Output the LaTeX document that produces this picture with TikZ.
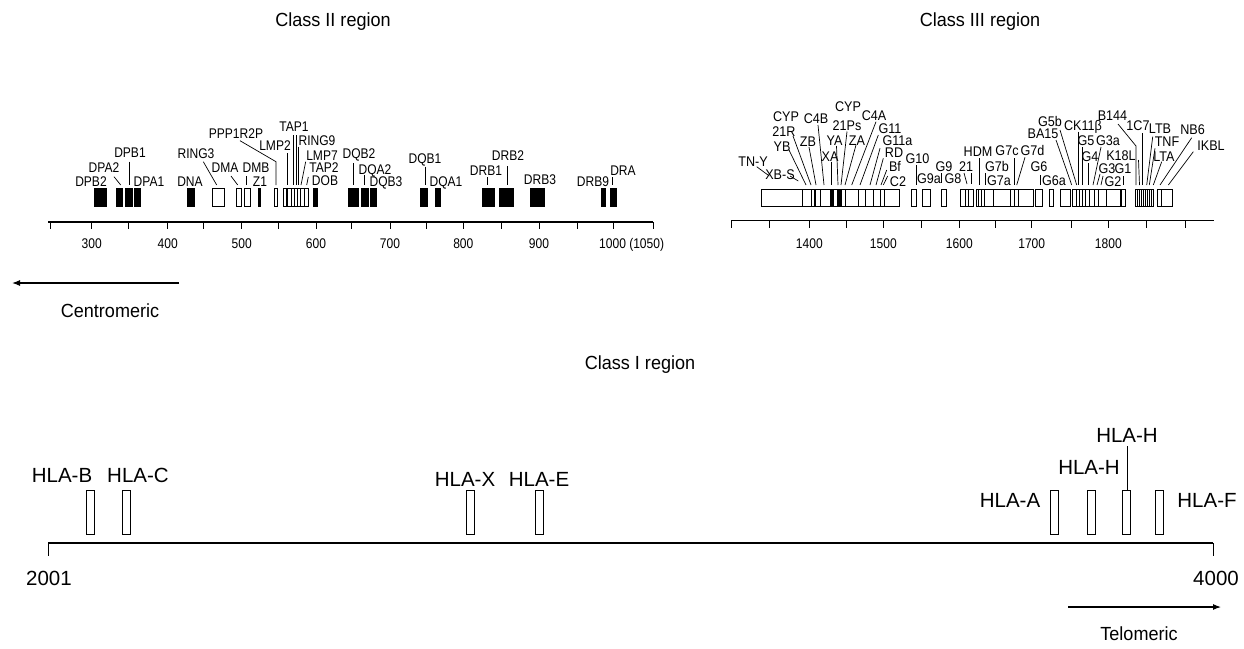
\documentclass[tikz,border=0pt]{standalone}
\usepackage{fontspec}
\setmainfont{Liberation Sans}
\usetikzlibrary{arrows.meta}
\begin{document}
\begin{tikzpicture}[x=1pt,y=-1pt,
  axisline/.style={line width=1.1pt},
  tickline/.style={line width=1pt},
  gbox/.style={draw,line width=0.8pt},
  fbox/.style={draw,fill=black,line width=0.5pt},
  divl/.style={line width=0.7pt},
  lead/.style={line width=0.7pt},
  lblii/.style={font=\fontsize{14}{15}\selectfont,inner sep=0pt,text height=10pt,text depth=0pt,xscale=0.86},
  lbliii/.style={font=\fontsize{14}{15}\selectfont,inner sep=0pt,text height=10pt,text depth=0pt,xscale=0.9},
  num/.style={font=\fontsize{14}{15}\selectfont,inner sep=0pt,text height=10pt,text depth=0pt,xscale=0.86},
  ttl/.style={font=\fontsize{19}{21}\selectfont,inner sep=0pt,text height=13.6pt,text depth=0pt,xscale=0.95},
  hla/.style={font=\fontsize{20.5}{22}\selectfont,inner sep=0pt,text height=14.7pt,text depth=0pt},
  arr/.style={line width=1.1pt,-{Latex[length=8pt,width=6pt]}}
]
\useasboundingbox (0,0) rectangle (1244,648);

% ---------- titles ----------
\node[ttl] (t2) at (333,20) {Class II region};
\node[ttl] (t3) at (980,20) {Class III region};
\node[ttl] (t1) at (640,363) {Class I region};
\node[ttl] (cen) at (110,311) {Centromeric};
\node[ttl] (tel) at (1139,634) {Telomeric};
\coordinate (ca) at (179,283); \coordinate (cb) at (12,283);
\draw[arr] (ca) -- (cb);
\coordinate (ta) at (1068,607); \coordinate (tb) at (1221,607);
\draw[arr] (ta) -- (tb);

% ---------- Class II axis ----------
\draw[axisline] (48,222) -- (653,222);
\foreach \x in {50,91.7,128.3,167.7,203.3,241.7,278.3,316,351.7,390,426,463.3,501,539,577.7,613.3,653}
  \draw[tickline] (\x,222) -- (\x,229);
\node[num] (a300) at (91.7,243) {300};
\node[num] (a400) at (167.7,243) {400};
\node[num] (a500) at (241.7,243) {500};
\node[num] (a600) at (316,243) {600};
\node[num] (a700) at (390,243) {700};
\node[num] (a800) at (463.3,243) {800};
\node[num] (a900) at (539,243) {900};
\node[num,anchor=west] (a1000) at (599,243) {1000 (1050)};

% Class II boxes
\foreach \a/\b in {94.3/106,116.7/122.3,125/132.7,134.3/140.7,187.7/194,258.3/260.7,313.3/317.3,
  348.3/358.3,361.7/368.3,370.7/376,420/427.7,435/440.7,482.3/494,499.3/513.3,530/544.3,601.7/605.7,610/616}
  \draw[fbox] (\a,188) rectangle (\b,206);
\foreach \a/\b in {212.7/224.3,236/241,244/250,274.3/277.3,283.3/286.3,287.3/291,291.5/294.5,294.5/297.5,297.5/300.5,300.5/304,304/308.3}
  \draw[gbox] (\a,188) rectangle (\b,206);

% Class II labels
\node[lblii] (dpb2) at (91,181.7) {DPB2};
\node[lblii] (dpa2) at (104,167.3) {DPA2};
\node[lblii] (dpb1) at (130,152.7) {DPB1};
\node[lblii] (dpa1) at (149,181.7) {DPA1};
\node[lblii] (dna) at (190,181.7) {DNA};
\node[lblii] (ring3) at (196,153.3) {RING3};
\node[lblii] (dma) at (225,167.7) {DMA};
\node[lblii] (dmb) at (256,167.7) {DMB};
\node[lblii] (z1) at (260,181.7) {Z1};
\node[lblii] (ppp) at (236,133.3) {PPP1R2P};
\node[lblii] (lmp2) at (275,145) {LMP2};
\node[lblii] (tap1) at (294,126.7) {TAP1};
\node[lblii] (ring9) at (317,140.7) {RING9};
\node[lblii] (lmp7) at (322,155) {LMP7};
\node[lblii] (tap2) at (324,167.7) {TAP2};
\node[lblii] (dob) at (325,180.7) {DOB};
\node[lblii] (dqb2) at (359,153.3) {DQB2};
\node[lblii] (dqa2) at (375,169) {DQA2};
\node[lblii] (dqb3) at (386,181.7) {DQB3};
\node[lblii] (dqb1) at (425,158.3) {DQB1};
\node[lblii] (dqa1) at (446,181.7) {DQA1};
\node[lblii] (drb1) at (486,170) {DRB1};
\node[lblii] (drb2) at (508,155.7) {DRB2};
\node[lblii] (drb3) at (540,179.3) {DRB3};
\node[lblii] (drb9) at (593,181.7) {DRB9};
\node[lblii] (dra) at (623,170) {DRA};

% Class II leaders
\draw[lead] (114,176.7) -- (120.7,185);
\draw[lead] (129,161.7) -- (129,185);
\draw[lead] (203.3,161.7) -- (216.7,185);
\draw[lead] (231,176) -- (237.7,185);
\draw[lead] (246,176) -- (246,185);
\draw[lead] (240,140.7) -- (276,161.7) -- (276,185);
\draw[lead] (287,153) -- (287,185);
\draw[lead] (293.5,135) -- (293.5,185);
\draw[lead] (296,135) -- (296,185);
\draw[lead] (298.5,146.7) -- (298.5,185);
\draw[lead] (305.7,161.7) -- (301,185);
\draw[lead] (308.3,177) -- (306.7,185);
\draw[lead] (353.3,163) -- (353.3,185);
\draw[lead] (364.3,175) -- (364.3,185);
\draw[lead] (425.7,166.7) -- (425.7,185);
\draw[lead] (487.3,177) -- (487.3,185);
\draw[lead] (507.7,166) -- (507.7,185);
\draw[lead] (612.7,177) -- (612.7,185);

% ---------- Class III axis ----------
\draw[axisline] (731,220.7) -- (1214,220.7);
\foreach \x in {731.5,769,809.3,846.7,883.3,921.7,959.3,995,1031.7,1071,1108.3,1146.7,1185}
  \draw[tickline] (\x,220.7) -- (\x,227.7);
\node[num] (b1400) at (809.3,243) {1400};
\node[num] (b1500) at (883.3,243) {1500};
\node[num] (b1600) at (959.3,243) {1600};
\node[num] (b1700) at (1031.7,243) {1700};
\node[num] (b1800) at (1108.3,243) {1800};

% Class III boxes
\foreach \a/\b in {761/814,815/899,911/916,922/930,941/946,960/973,976/1033,1035/1042,1049/1053,1060/1070,1072/1106,1106/1120,1121.5/1125,1135.5/1153,1157/1172}
  \draw[gbox] (\a,189) rectangle (\b,206);
\foreach \x in {802,811,820,830,833.5,845,858,865,873.5,880.5,884,965.3,968,978,981,984,993,1010.4,1014,1018.4,1076,1079,1082,1085,1089,1094,1098,1161.5,
  1137.5,1139.5,1141.5,1143.5,1145.5,1147.5,1149.5,1151.3}
  \draw[divl] (\x,189) -- (\x,206);
\fill (836.5,189) rectangle (841.5,206);
\fill (830,189) rectangle (832.5,206);

% Class III labels
\node[lbliii] (tny) at (753,161.7) {TN-Y};
\node[lbliii] (xbs) at (780,174) {XB-S};
\node[lbliii] (yb) at (782,146.7) {YB};
\node[lbliii] (r21) at (784,131.7) {21R};
\node[lbliii] (cyp1) at (786,116.7) {CYP};
\node[lbliii] (zb) at (808,141.7) {ZB};
\node[lbliii] (c4b) at (816,118.3) {C4B};
\node[lbliii] (xa) at (830,156) {XA};
\node[lbliii] (ya) at (834.5,140) {YA};
\node[lbliii] (ps21) at (847,125) {21Ps};
\node[lbliii] (cyp2) at (848,106.7) {CYP};
\node[lbliii] (za) at (857,140) {ZA};
\node[lbliii] (c4a) at (874,115) {C4A};
\node[lbliii] (g11) at (890,128.3) {G11};
\node[lbliii] (g11a) at (897.5,140) {G11a};
\node[lbliii] (rd) at (894,152.5) {RD};
\node[lbliii] (bf) at (895,166.7) {Bf};
\node[lbliii] (c2) at (898,181.7) {C2};
\node[lbliii] (g10) at (917.5,158.3) {G10};
\node[lbliii] (g9a) at (929,178.3) {G9a};
\node[lbliii] (g9) at (944,166) {G9};
\node[lbliii] (g8) at (953,178.3) {G8};
\node[lbliii] (n21) at (966,166.7) {21};
\node[lbliii] (hdm) at (978,151) {HDM};
\node[lbliii] (g7b) at (997,166.7) {G7b};
\node[lbliii] (g7a) at (999,180) {G7a};
\node[lbliii] (g7c) at (1007,150) {G7c};
\node[lbliii] (g7d) at (1032.5,150) {G7d};
\node[lbliii] (g6) at (1039,166.7) {G6};
\node[lbliii] (g6a) at (1054,180) {G6a};
\node[lbliii] (ba15) at (1043,133.3) {BA15};
\node[lbliii] (g5b) at (1050,121.7) {G5b};
\node[lbliii] (ck11) at (1083,125) {CK11β};
\node[lbliii] (g5) at (1086,140) {G5};
\node[lbliii] (g3a) at (1108,140) {G3a};
\node[lbliii] (g4) at (1090,156.7) {G4};
\node[lbliii] (k18l) at (1121,155) {K18L};
\node[lbliii] (g3) at (1107,168.3) {G3};
\node[lbliii] (g1) at (1123,168.3) {G1};
\node[lbliii] (g2) at (1113,181.7) {G2};
\node[lbliii] (b144) at (1112.5,115) {B144};
\node[lbliii] (c17) at (1138,125) {1C7};
\node[lbliii] (ltb) at (1160,128.3) {LTB};
\node[lbliii] (tnf) at (1167,141.7) {TNF};
\node[lbliii] (lta) at (1164,156) {LTA};
\node[lbliii] (nb6) at (1192.5,129.3) {NB6};
\node[lbliii] (ikbl) at (1211,145) {IKBL};

% Class III leaders
\draw[lead] (756.7,166.7) -- (769.3,176);
\draw[lead] (790,176) -- (798.3,181);
\draw[lead] (789,150) -- (806,185);
\draw[lead] (793,136) -- (811,185);
\draw[lead] (809,147) -- (816,185);
\draw[lead] (818,125) -- (824,185);
\draw[lead] (831,161.7) -- (831,185);
\draw[lead] (836.5,146) -- (838,185);
\draw[lead] (847,131.5) -- (841,185);
\draw[lead] (856,145) -- (845,185);
\draw[lead] (876,121.7) -- (851.7,185);
\draw[lead] (878.3,135) -- (860,185);
\draw[lead] (880,148.3) -- (870,185);
\draw[lead] (883.3,158.3) -- (876,185);
\draw[lead] (886.7,170) -- (881,185);
\draw[lead] (887.7,176) -- (883.3,185);
\draw[lead] (916,165) -- (916,185);
\draw[lead] (941.7,173) -- (941.7,183);
\draw[lead] (964,173) -- (967,184);
\draw[lead] (971,173) -- (971,184);
\draw[lead] (979,158) -- (979,185);
\draw[lead] (985,173) -- (985,185);
\draw[lead] (1014,158.3) -- (1014,185);
\draw[lead] (1025,157.3) -- (1016.7,185);
\draw[lead] (1040,175) -- (1040,185);
\draw[lead] (1056,140) -- (1071.7,185);
\draw[lead] (1060,130) -- (1076.7,185);
\draw[lead] (1078.3,131.7) -- (1078.3,185);
\draw[lead] (1082,147) -- (1082,185);
\draw[lead] (1088,163) -- (1088,185);
\draw[lead] (1101,147) -- (1093,185);
\draw[lead] (1100,174) -- (1097,185);
\draw[lead] (1103,176) -- (1101,185);
\draw[lead] (1123,176) -- (1123,185);
\draw[lead] (1118,124) -- (1136,146) -- (1136,185);
\draw[lead] (1138.5,160) -- (1139.5,185);
\draw[lead] (1142.5,133) -- (1142.5,185);
\draw[lead] (1152.7,136.7) -- (1146.7,185);
\draw[lead] (1155,148.3) -- (1149.3,185);
\draw[lead] (1161.7,161.7) -- (1153.3,185);
\draw[lead] (1191.7,137.7) -- (1160,185);
\draw[lead] (1193.3,151.7) -- (1168.3,185);

% ---------- Class I ----------
\draw[axisline] (48,543) -- (1213,543);
\draw[tickline] (48,543) -- (48,556);
\draw[tickline] (1213,543) -- (1213,556);
\node[hla] (n2001) at (49,578) {2001};
\node[hla] (n4000) at (1216,578) {4000};
\foreach \a in {86,122.5,466,535,1050,1087,1122,1155}
  \draw[gbox] (\a,490) rectangle (\a+8,534);
\node[hla] (hlab) at (62,475) {HLA-B};
\node[hla] (hlac) at (138,475) {HLA-C};
\node[hla] (hlax) at (465,479) {HLA-X};
\node[hla] (hlae) at (539,479) {HLA-E};
\node[hla] (hlaa) at (1010,500) {HLA-A};
\node[hla] (hlah1) at (1089,467) {HLA-H};
\node[hla] (hlah2) at (1127,435) {HLA-H};
\node[hla] (hlaf) at (1207,500) {HLA-F};
\draw[lead] (1127,446) -- (1127,490);
\end{tikzpicture}
\end{document}
